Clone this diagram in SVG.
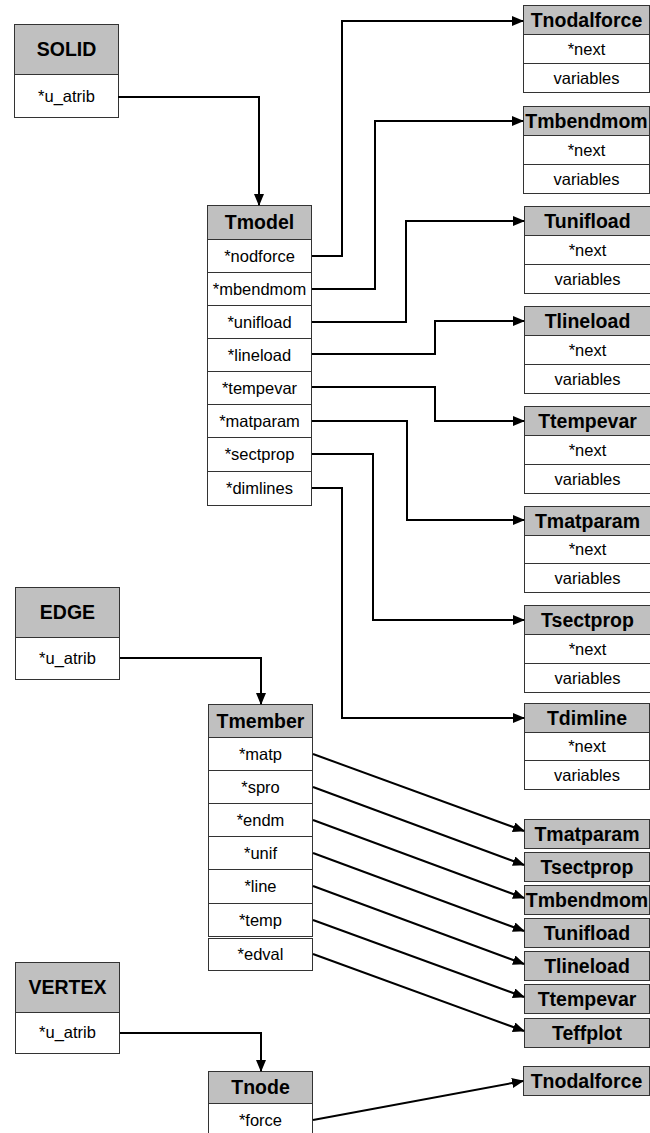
<svg xmlns="http://www.w3.org/2000/svg" width="650" height="1133" viewBox="0 0 650 1133">
  <defs>
    <style>
      .hd { fill: #c0c0c0; stroke: #333; stroke-width: 1; }
      .rw { fill: #fff; stroke: #333; stroke-width: 1; }
      .ht { font-family: "Liberation Sans", Arial, sans-serif; font-weight: bold; font-size: 19.5px; text-anchor: middle; fill: #000; }
      .rt { font-family: "Liberation Sans", Arial, sans-serif; font-size: 16.5px; text-anchor: middle; fill: #000; }
      .cn { fill: none; stroke: #000; stroke-width: 2; marker-end: url(#ah); }
    </style>
    <marker id="ah" markerUnits="userSpaceOnUse" markerWidth="12" markerHeight="10" refX="11" refY="5" orient="auto">
      <path d="M0,0 L12,5 L0,10 Z" fill="#000"/>
    </marker>
  </defs>
  <rect width="650" height="1133" fill="#fff"/>

  <!-- left-hand topology entities -->
  <g id="solid">
    <rect class="hd" x="14.5" y="24.5" width="104" height="50"/>
    <rect class="rw" x="14.5" y="74.5" width="104" height="43"/>
    <text class="ht" x="66.5" y="56">SOLID</text>
    <text class="rt" x="66.5" y="102">*u_atrib</text>
  </g>
  <g id="edge">
    <rect class="hd" x="15.5" y="587.5" width="104" height="50"/>
    <rect class="rw" x="15.5" y="637.5" width="104" height="42"/>
    <text class="ht" x="67.5" y="619">EDGE</text>
    <text class="rt" x="67.5" y="664">*u_atrib</text>
  </g>
  <g id="vertex">
    <rect class="hd" x="15.5" y="962.5" width="104" height="50"/>
    <rect class="rw" x="15.5" y="1012.5" width="104" height="41"/>
    <text class="ht" x="67.5" y="994">VERTEX</text>
    <text class="rt" x="67.5" y="1038">*u_atrib</text>
  </g>

  <!-- Tmodel -->
  <g id="tmodel">
    <rect class="hd" x="207.5" y="205.5" width="104" height="34"/>
    <rect class="rw" x="207.5" y="239.5" width="104" height="33"/>
    <rect class="rw" x="207.5" y="272.5" width="104" height="33"/>
    <rect class="rw" x="207.5" y="305.5" width="104" height="33"/>
    <rect class="rw" x="207.5" y="338.5" width="104" height="33"/>
    <rect class="rw" x="207.5" y="371.5" width="104" height="33"/>
    <rect class="rw" x="207.5" y="404.5" width="104" height="33"/>
    <rect class="rw" x="207.5" y="437.5" width="104" height="34"/>
    <rect class="rw" x="207.5" y="471.5" width="104" height="34"/>
    <text class="ht" x="259.5" y="229">Tmodel</text>
    <text class="rt" x="259.5" y="262">*nodforce</text>
    <text class="rt" x="259.5" y="295">*mbendmom</text>
    <text class="rt" x="259.5" y="328">*unifload</text>
    <text class="rt" x="259.5" y="361">*lineload</text>
    <text class="rt" x="259.5" y="394">*tempevar</text>
    <text class="rt" x="259.5" y="427">*matparam</text>
    <text class="rt" x="259.5" y="460">*sectprop</text>
    <text class="rt" x="259.5" y="494">*dimlines</text>
  </g>

  <!-- Tmember -->
  <g id="tmember">
    <rect class="hd" x="208.5" y="704.5" width="104" height="33"/>
    <rect class="rw" x="208.5" y="737.5" width="104" height="33"/>
    <rect class="rw" x="208.5" y="770.5" width="104" height="33"/>
    <rect class="rw" x="208.5" y="803.5" width="104" height="33"/>
    <rect class="rw" x="208.5" y="836.5" width="104" height="33"/>
    <rect class="rw" x="208.5" y="869.5" width="104" height="34"/>
    <rect class="rw" x="208.5" y="903.5" width="104" height="33"/>
    <rect class="rw" x="208.5" y="938.5" width="104" height="32"/>
    <text class="ht" x="260.5" y="728">Tmember</text>
    <text class="rt" x="260.5" y="760">*matp</text>
    <text class="rt" x="260.5" y="793">*spro</text>
    <text class="rt" x="260.5" y="826">*endm</text>
    <text class="rt" x="260.5" y="859">*unif</text>
    <text class="rt" x="260.5" y="892">*line</text>
    <text class="rt" x="260.5" y="926">*temp</text>
    <text class="rt" x="260.5" y="960">*edval</text>
  </g>

  <!-- Tnode -->
  <g id="tnode">
    <rect class="hd" x="208.5" y="1071.5" width="104" height="32"/>
    <rect class="rw" x="208.5" y="1103.5" width="104" height="34"/>
    <text class="ht" x="260.5" y="1094">Tnode</text>
    <text class="rt" x="260.5" y="1126">*force</text>
  </g>

  <!-- linked-list record types -->
  <g id="tnodalforce">
    <rect class="hd" x="523.5" y="5.5" width="126" height="29"/>
    <rect class="rw" x="523.5" y="34.5" width="126" height="29"/>
    <rect class="rw" x="523.5" y="63.5" width="126" height="29"/>
    <text class="ht" x="586.5" y="27">Tnodalforce</text>
    <text class="rt" x="586.5" y="55">*next</text>
    <text class="rt" x="586.5" y="84">variables</text>
  </g>
  <g id="tmbendmom">
    <rect class="hd" x="523.5" y="106.5" width="126" height="29"/>
    <rect class="rw" x="523.5" y="135.5" width="126" height="29"/>
    <rect class="rw" x="523.5" y="164.5" width="126" height="29"/>
    <text class="ht" x="586.5" y="128">Tmbendmom</text>
    <text class="rt" x="586.5" y="156">*next</text>
    <text class="rt" x="586.5" y="185">variables</text>
  </g>
  <g id="tunifload">
    <rect class="hd" x="524.5" y="206.5" width="126" height="29"/>
    <rect class="rw" x="524.5" y="235.5" width="126" height="29"/>
    <rect class="rw" x="524.5" y="264.5" width="126" height="29"/>
    <text class="ht" x="587.5" y="228">Tunifload</text>
    <text class="rt" x="587.5" y="256">*next</text>
    <text class="rt" x="587.5" y="285">variables</text>
  </g>
  <g id="tlineload">
    <rect class="hd" x="524.5" y="306.5" width="126" height="29"/>
    <rect class="rw" x="524.5" y="335.5" width="126" height="29"/>
    <rect class="rw" x="524.5" y="364.5" width="126" height="29"/>
    <text class="ht" x="587.5" y="328">Tlineload</text>
    <text class="rt" x="587.5" y="356">*next</text>
    <text class="rt" x="587.5" y="385">variables</text>
  </g>
  <g id="ttempevar">
    <rect class="hd" x="524.5" y="406.5" width="126" height="29"/>
    <rect class="rw" x="524.5" y="435.5" width="126" height="29"/>
    <rect class="rw" x="524.5" y="464.5" width="126" height="29"/>
    <text class="ht" x="587.5" y="428">Ttempevar</text>
    <text class="rt" x="587.5" y="456">*next</text>
    <text class="rt" x="587.5" y="485">variables</text>
  </g>
  <g id="tmatparam">
    <rect class="hd" x="524.5" y="506.5" width="126" height="29"/>
    <rect class="rw" x="524.5" y="535.5" width="126" height="28"/>
    <rect class="rw" x="524.5" y="563.5" width="126" height="29"/>
    <text class="ht" x="587.5" y="528">Tmatparam</text>
    <text class="rt" x="587.5" y="555">*next</text>
    <text class="rt" x="587.5" y="584">variables</text>
  </g>
  <g id="tsectprop">
    <rect class="hd" x="524.5" y="605.5" width="126" height="29"/>
    <rect class="rw" x="524.5" y="634.5" width="126" height="29"/>
    <rect class="rw" x="524.5" y="663.5" width="126" height="29"/>
    <text class="ht" x="587.5" y="627">Tsectprop</text>
    <text class="rt" x="587.5" y="655">*next</text>
    <text class="rt" x="587.5" y="684">variables</text>
  </g>
  <g id="tdimline">
    <rect class="hd" x="524.5" y="703.5" width="125" height="29"/>
    <rect class="rw" x="524.5" y="732.5" width="125" height="28"/>
    <rect class="rw" x="524.5" y="760.5" width="125" height="29"/>
    <text class="ht" x="587" y="725">Tdimline</text>
    <text class="rt" x="587" y="752">*next</text>
    <text class="rt" x="587" y="781">variables</text>
  </g>

  <!-- single-header record types reached from Tmember / Tnode -->
  <g id="m-tmatparam">
    <rect class="hd" x="524.5" y="819.5" width="125" height="29"/>
    <text class="ht" x="587" y="841">Tmatparam</text>
  </g>
  <g id="m-tsectprop">
    <rect class="hd" x="524.5" y="852.5" width="125" height="29"/>
    <text class="ht" x="587" y="874">Tsectprop</text>
  </g>
  <g id="m-tmbendmom">
    <rect class="hd" x="524.5" y="885.5" width="125" height="29"/>
    <text class="ht" x="587" y="907">Tmbendmom</text>
  </g>
  <g id="m-tunifload">
    <rect class="hd" x="524.5" y="918.5" width="125" height="29"/>
    <text class="ht" x="587" y="940">Tunifload</text>
  </g>
  <g id="m-tlineload">
    <rect class="hd" x="524.5" y="951.5" width="125" height="29"/>
    <text class="ht" x="587" y="973">Tlineload</text>
  </g>
  <g id="m-ttempevar">
    <rect class="hd" x="524.5" y="984.5" width="125" height="29"/>
    <text class="ht" x="587" y="1006">Ttempevar</text>
  </g>
  <g id="m-teffplot">
    <rect class="hd" x="524.5" y="1018.5" width="125" height="29"/>
    <text class="ht" x="587" y="1040">Teffplot</text>
  </g>
  <g id="n-tnodalforce">
    <rect class="hd" x="523.5" y="1066.5" width="126" height="29"/>
    <text class="ht" x="586.5" y="1088">Tnodalforce</text>
  </g>

  <!-- pointer connectors -->
  <g id="connectors">
    <polyline class="cn" points="118,97 259,97 259,205"/>
    <polyline class="cn" points="120,658 261,658 261,704"/>
    <polyline class="cn" points="120,1033 261,1033 261,1071"/>

    <polyline class="cn" points="312,256 342,256 342,21 523,21"/>
    <polyline class="cn" points="312,289 375,289 375,121 523,121"/>
    <polyline class="cn" points="312,322 406,322 406,221 524,221"/>
    <polyline class="cn" points="312,354 435,354 435,321 524,321"/>
    <polyline class="cn" points="312,387 435,387 435,421 524,421"/>
    <polyline class="cn" points="312,421 407,421 407,520 524,520"/>
    <polyline class="cn" points="312,454 373,454 373,620 524,620"/>
    <polyline class="cn" points="312,488 342,488 342,718 524,718"/>

    <line class="cn" x1="313" y1="754" x2="524" y2="831"/>
    <line class="cn" x1="313" y1="787" x2="524" y2="865"/>
    <line class="cn" x1="313" y1="820" x2="524" y2="898"/>
    <line class="cn" x1="313" y1="853" x2="524" y2="931"/>
    <line class="cn" x1="313" y1="886" x2="524" y2="964"/>
    <line class="cn" x1="313" y1="920" x2="524" y2="997"/>
    <line class="cn" x1="313" y1="954" x2="524" y2="1031"/>

    <line class="cn" x1="313" y1="1120" x2="523" y2="1081"/>
  </g>
</svg>
